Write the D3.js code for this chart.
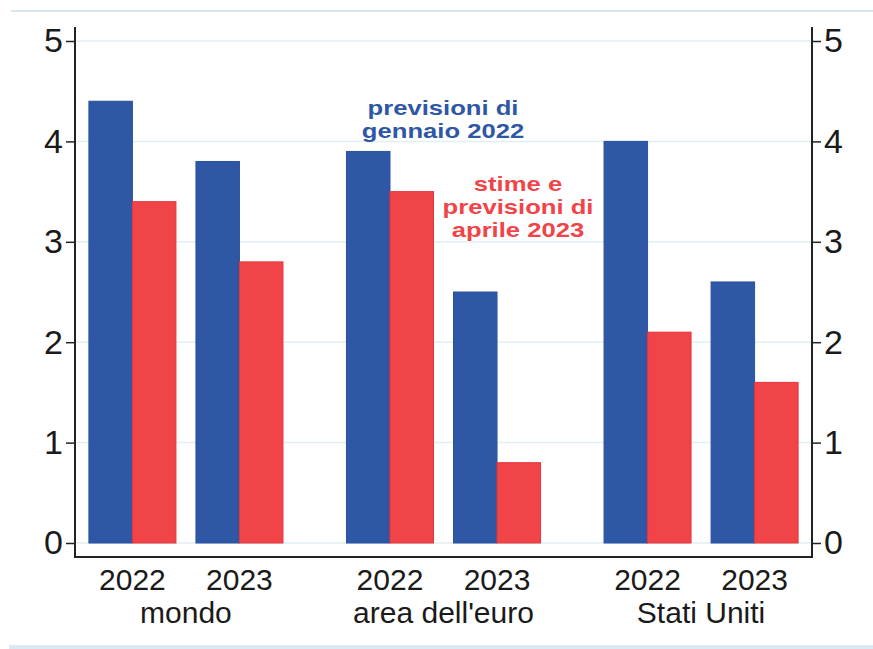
<!DOCTYPE html>
<html>
<head>
<meta charset="utf-8">
<script src="https://cdn.jsdelivr.net/npm/d3@7"></script>
<style>
  html, body { margin: 0; padding: 0; background: #fff; }
  svg { display: block; }
  text { font-family: "Liberation Sans", Arial, sans-serif; }
</style>
</head>
<body>
<svg id="chart" width="873" height="649"></svg>
<script>
// ---- data ----
const regions = ["mondo", "area dell'euro", "Stati Uniti"];
const years = ["2022", "2023"];
const seriesNames = ["previsioni di gennaio 2022", "stime e previsioni di aprile 2023"];
const januaryForecast = [4.4, 3.8, 3.9, 2.5, 4.0, 2.6];   // blue
const aprilEstimate   = [3.4, 2.8, 3.5, 0.8, 2.1, 1.6];   // red
const yTicks = [0, 1, 2, 3, 4, 5];
const blueLabel = ["previsioni di", "gennaio 2022"];
const redLabel = ["stime e", "previsioni di", "aprile 2023"];

// ---- layout ----
const svg = d3.select("#chart");
const plotLeft = 75, plotRight = 812, plotTop = 27, axisBottom = 557;
const colors = ["#2e57a5", "#f04448"];
const strokes = ["#2a52a0", "#e6363b"];

const y = d3.scaleLinear().domain([0, 5]).range([543, 41]);

const xRegion = d3.scaleBand().domain(regions).range([plotLeft, plotRight])
  .paddingInner(0.2466).paddingOuter(0.054);
const xYear = d3.scaleBand().domain(years).range([0, xRegion.bandwidth()])
  .paddingInner(0.187).paddingOuter(0);
const xSeries = d3.scaleBand().domain([0, 1]).range([0, xYear.bandwidth()]);

// frame lines
svg.append("line").attr("x1", 11).attr("x2", 873).attr("y1", 11).attr("y2", 11)
  .attr("stroke", "#d9e8ef").attr("stroke-width", 2);
svg.append("rect").attr("x", 9).attr("y", 645).attr("width", 864).attr("height", 4)
  .attr("fill", "#dde9f2");

// gridlines
svg.append("g").selectAll("line").data(yTicks).join("line")
  .attr("x1", plotLeft).attr("x2", plotRight)
  .attr("y1", d => y(d)).attr("y2", d => y(d))
  .attr("stroke", "#e2eff3").attr("stroke-width", 1.5);

// bars
const rows = [];
regions.forEach((r, ri) => years.forEach((yr, yi) => {
  const idx = ri * 2 + yi;
  [januaryForecast[idx], aprilEstimate[idx]].forEach((v, s) => rows.push({ r, yr, s, v }));
}));
svg.append("g").selectAll("rect").data(rows).join("rect")
  .attr("x", d => xRegion(d.r) + xYear(d.yr) + xSeries(d.s))
  .attr("width", xSeries.bandwidth())
  .attr("y", d => y(d.v))
  .attr("height", d => y(0) - y(d.v))
  .attr("fill", d => colors[d.s])
  .attr("stroke", d => strokes[d.s])
  .attr("stroke-width", 1);

// axes
const yAxisL = d3.axisLeft(y).tickValues(yTicks).tickFormat(d3.format("d")).tickSize(9).tickPadding(3);
const yAxisR = d3.axisRight(y).tickValues(yTicks).tickFormat(d3.format("d")).tickSize(9).tickPadding(3);
const gL = svg.append("g").attr("transform", `translate(${plotLeft},0)`).call(yAxisL);
const gR = svg.append("g").attr("transform", `translate(${plotRight},0)`).call(yAxisR);
[gL, gR].forEach(g => {
  g.select(".domain").remove();
  g.selectAll(".tick line").attr("stroke", "#222").attr("stroke-width", 1.5);
  g.selectAll(".tick text").attr("font-size", 34).attr("fill", "#1a1a1a")
    .attr("font-family", "'Liberation Sans', Arial, sans-serif");
});
svg.append("line").attr("x1", plotLeft).attr("x2", plotLeft).attr("y1", plotTop).attr("y2", axisBottom)
  .attr("stroke", "#222").attr("stroke-width", 2);
svg.append("line").attr("x1", plotRight).attr("x2", plotRight).attr("y1", plotTop).attr("y2", axisBottom)
  .attr("stroke", "#222").attr("stroke-width", 2);
svg.append("line").attr("x1", plotLeft - 1).attr("x2", plotRight + 1).attr("y1", axisBottom).attr("y2", axisBottom)
  .attr("stroke", "#222").attr("stroke-width", 2);

// x labels
const xl = svg.append("g");
regions.forEach(r => {
  years.forEach(yr => {
    xl.append("text")
      .attr("x", xRegion(r) + xYear(yr) + xYear.bandwidth() / 2)
      .attr("y", 590).attr("text-anchor", "middle")
      .attr("font-size", 30).attr("fill", "#1a1a1a").text(yr);
  });
  xl.append("text")
    .attr("x", xRegion(r) + xRegion.bandwidth() / 2)
    .attr("y", 623).attr("text-anchor", "middle")
    .attr("font-size", 30).attr("fill", "#1a1a1a").text(r);
});

// annotations (glyphs stretched horizontally like the reference)
const ann = svg.append("g").attr("font-weight", "bold").attr("font-size", 21).attr("text-anchor", "middle");
function stretch(sel) {
  sel.each(function () {
    const w = this.getComputedTextLength();
    d3.select(this).attr("textLength", w * 1.22).attr("lengthAdjust", "spacingAndGlyphs");
  });
}
ann.selectAll(".b").data(blueLabel).join("text").attr("class", "b")
  .attr("x", 443).attr("y", (d, i) => 115 + i * 23)
  .attr("fill", "#2e57a5").text(d => d).call(stretch);
ann.selectAll(".r").data(redLabel).join("text").attr("class", "r")
  .attr("x", 518).attr("y", (d, i) => 191 + i * 23)
  .attr("fill", "#f04448").text(d => d).call(stretch);
</script>
</body>
</html>
